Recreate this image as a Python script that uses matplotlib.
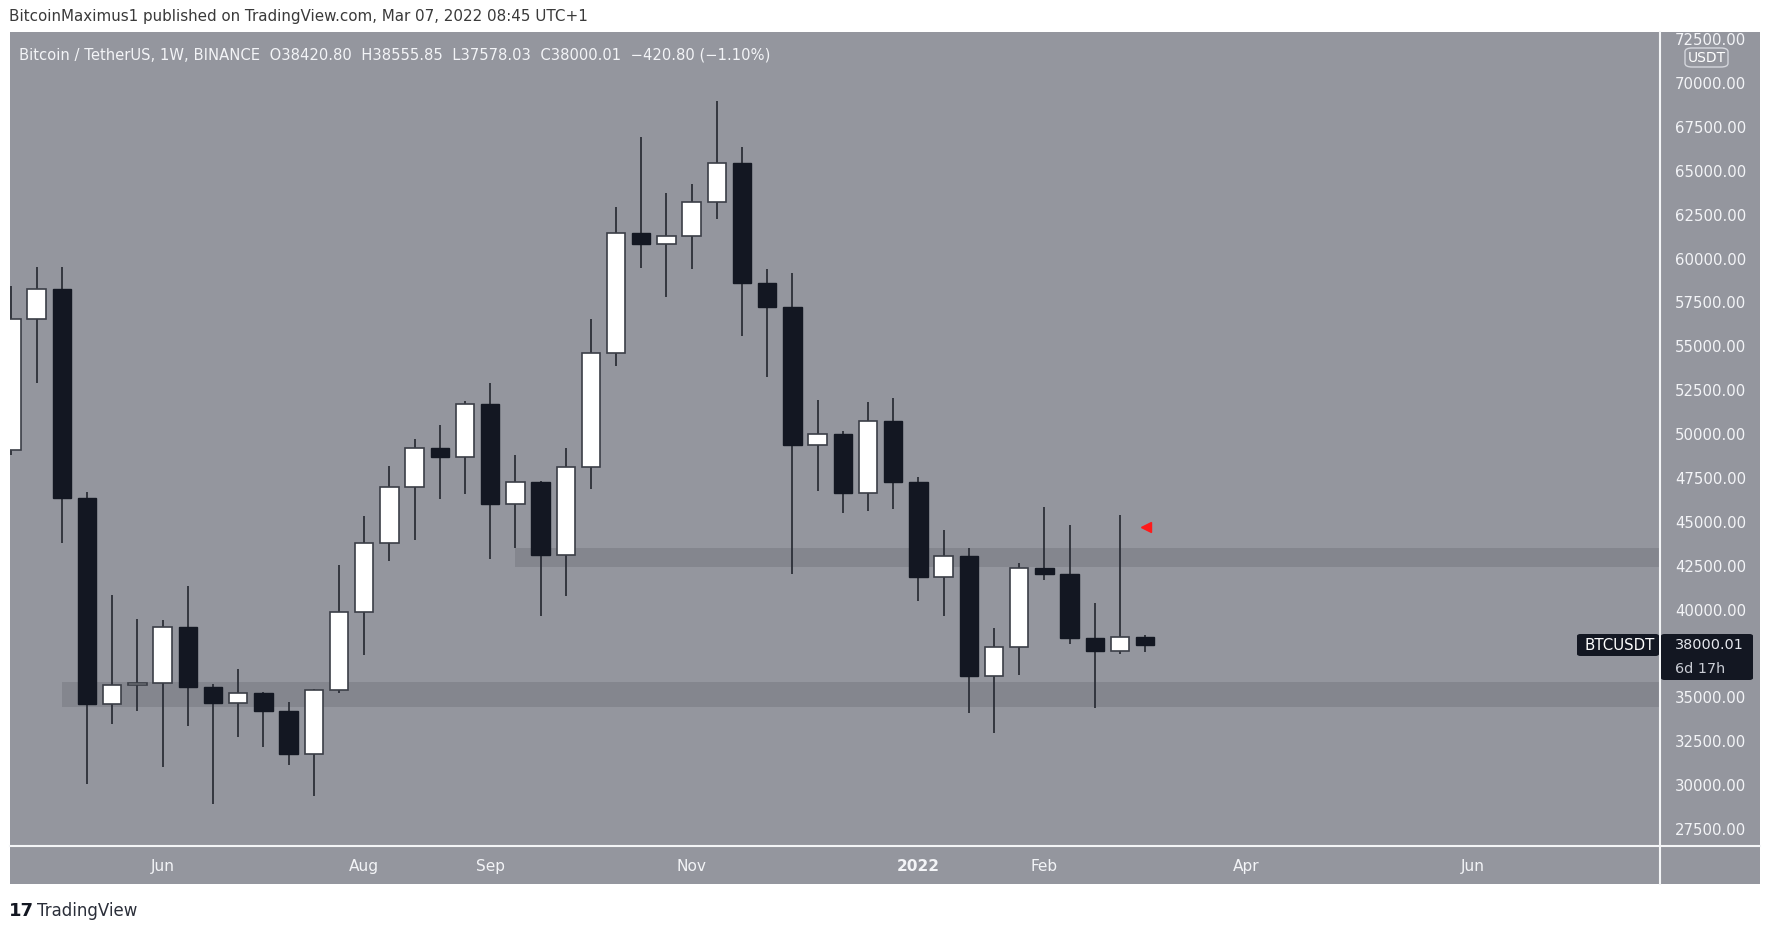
import matplotlib
matplotlib.use('Agg')
import matplotlib.pyplot as plt
from matplotlib import font_manager
from matplotlib.patches import Rectangle, FancyBboxPatch
from matplotlib.lines import Line2D
import numpy as np
import pandas as pd

# BTC/USDT weekly candles (Binance), first week 2021-04-26, last 2022-03-07
opens = [49085, 56578, 58241, 46360, 34631, 35678, 35808, 38991, 35590, 34697,
         35263, 34217, 31754, 35416, 39841, 43809, 46970, 49194, 48714, 51722,
         45989, 47253, 43111, 48147, 54644, 61480, 60800, 61280, 63218, 65436,
         58583, 57224, 49372, 50031, 46635, 50770, 47250, 41838, 43072, 36236,
         37888, 42389, 42028, 38363, 37660, 38420.80]
highs = [58415, 59505, 59505, 46708, 40822, 39449, 39384, 41346, 35743, 36615,
         35285, 34718, 35450, 42566, 45335, 48169, 49739, 50502, 51875, 52900,
         48779, 47300, 49194, 56540, 62918, 66934, 63718, 64237, 68972, 66375,
         59422, 59182, 51949, 50191, 51829, 52069, 47573, 44534, 43490, 38932,
         42635, 45826, 44800, 40376, 45370, 38555.85]
lows = [48779, 52921, 43809, 30075, 33454, 34217, 31056, 33367, 28920, 32735,
        32146, 31121, 29356, 35263, 37422, 42784, 43983, 46316, 46578, 42872,
        43482, 39623, 40801, 46861, 53887, 59482, 57783, 59422, 62279, 55585,
        53248, 42039, 46754, 45476, 45596, 45736, 40509, 39654, 34090, 32989,
        36274, 41686, 38040, 34375, 37470, 37578.03]
closes = [56578, 58241, 46360, 34631, 35678, 35808, 38991, 35590, 34697, 35263,
          34217, 31754, 35416, 39841, 43809, 46970, 49194, 48714, 51722, 45989,
          47253, 43111, 48147, 54644, 61480, 60800, 61280, 63218, 65436, 58583,
          57224, 49372, 50031, 46635, 50770, 47250, 41838, 43072, 36236, 37888,
          42389, 42028, 38363, 37660, 38420.80, 38000.01]
first_week = '2021-04-26'

# time axis labels
tick_dates = ['2021-06-07', '2021-08-02', '2021-09-06', '2021-11-01',
              '2022-01-03', '2022-02-07', '2022-04-04', '2022-06-06']
tick_labels = ['Jun', 'Aug', 'Sep', 'Nov', '2022', 'Feb', 'Apr', 'Jun']

# price axis
price_ticks = list(range(27500, 72501, 2500))

# horizontal zones (low, high, first week index)
support = (34470, 35894, 2)
resistance = (42408, 43490, 20)

last_price = '38000.01'
countdown = '6d 17h'
marker_price = 44700

header = 'BitcoinMaximus1 published on TradingView.com, Mar 07, 2022 08:45 UTC+1'
legend = ('Bitcoin / TetherUS, 1W, BINANCE  O38420.80  H38555.85  L37578.03  '
          'C38000.01  \u2212420.80 (\u22121.10%)')

installed = {f.name for f in font_manager.fontManager.ttflist}
narrow = 'Liberation Sans Narrow' if 'Liberation Sans Narrow' in installed else 'DejaVu Sans'
nscale = 1.0 if narrow != 'DejaVu Sans' else 0.8

W, H = 1771, 930
fig = plt.figure(figsize=(W / 100, H / 100), dpi=100, facecolor='white')


def fx(px):
    return px / W


def fy(py):
    return 1 - py / H


BG = '#94969e'
ZONE = '#84868e'
DARK = '#131722'
TXT = '#f3f4f7'

fig.patches.append(Rectangle((fx(9.6), fy(884.4)), fx(1760) - fx(9.6), fy(32) - fy(884.4),
                             transform=fig.transFigure, facecolor=BG, edgecolor='none', zorder=-5))

ax = fig.add_axes([fx(9.6), fy(846), fx(1660) - fx(9.6), fy(32) - fy(846)])
ax.set_facecolor(BG)

x = np.arange(len(opens))
o = np.array(opens)
c = np.array(closes)
up = c >= o
xmax = 65.44

# zones
for lo, hi, start in (support, resistance):
    ax.fill_between([start, xmax], lo, hi, color=ZONE, lw=0, zorder=1)

ax.vlines(x, lows, highs, color='#2c2f38', lw=1.3, zorder=2)
ax.bar(x[up], (c - o)[up], bottom=o[up], width=0.73, color='white',
       edgecolor='#3b3e47', linewidth=1.2, zorder=3)
ax.bar(x[~up], (o - c)[~up], bottom=c[~up], width=0.73, color=DARK,
       edgecolor=DARK, linewidth=1.0, zorder=3)

ax.plot(len(opens) - 1 + 0.05, marker_price, marker='<', color='#ff1a1a',
        ms=7, mec='#ff1a1a', zorder=5)

ax.set_xlim(-0.075, xmax)
ax.set_ylim(26532, 72905)

# ticks
t0 = pd.Timestamp(first_week)
tick_idx = [(pd.Timestamp(d) - t0).days / 7 for d in tick_dates]
ax.set_xticks(tick_idx)
ax.set_xticklabels(tick_labels, family=narrow, fontsize=13.8 * nscale)
ax.get_xticklabels()[4].set_fontweight('bold')
ax.tick_params(axis='x', length=0, pad=9.0, labelcolor=TXT)

ax.yaxis.tick_right()
ax.set_yticks(price_ticks)
# the label hidden behind the last-price box is left out
ax.set_yticklabels(['' if abs(p - closes[-1]) < 1500 else f'{p:.2f}' for p in price_ticks])
ax.tick_params(axis='y', length=0, pad=10.8, labelsize=10.7, labelcolor=TXT)
for sp in ax.spines.values():
    sp.set_visible(False)

# separator lines
fig.add_artist(Line2D([fx(9.6), fx(1760)], [fy(846), fy(846)], transform=fig.transFigure,
                      color='#f4f5f7', lw=1.5))
fig.add_artist(Line2D([fx(1660), fx(1660)], [fy(32), fy(884.4)], transform=fig.transFigure,
                      color='#f4f5f7', lw=1.5))

# last price labels
fig.patches.append(FancyBboxPatch((fx(1577), fy(656)), fx(1659) - fx(1577), fy(634) - fy(656),
                                  boxstyle='round,pad=0,rounding_size=0.002',
                                  transform=fig.transFigure, facecolor=DARK, edgecolor='none', zorder=4))
fig.text(fx(1585), fy(645), 'BTCUSDT', color='white', fontsize=10.8, va='center', ha='left', zorder=5)
fig.patches.append(FancyBboxPatch((fx(1661), fy(680)), fx(1753) - fx(1661), fy(634) - fy(680),
                                  boxstyle='round,pad=0,rounding_size=0.002',
                                  transform=fig.transFigure, facecolor=DARK, edgecolor='none', zorder=4))
fig.text(fx(1675), fy(645), last_price, color='#e6e8ee', fontsize=10.4, va='center', ha='left', zorder=5)
fig.text(fx(1675), fy(668.5), countdown, color='#c9ccd4', fontsize=10.4, va='center', ha='left', zorder=5)

# currency badge
fig.patches.append(FancyBboxPatch((fx(1685), fy(67)), fx(1728) - fx(1685), fy(48) - fy(67),
                                  boxstyle='round,pad=0,rounding_size=0.004',
                                  transform=fig.transFigure, facecolor=BG, edgecolor='#d4d6dc',
                                  lw=1.0, zorder=4))
fig.text(fx(1706.5), fy(57.5), 'USDT', color='white', fontsize=10, va='center', ha='center', zorder=5)

# header / legend / footer
fig.text(fx(9), fy(16), header, color='#3a3a3a', family=narrow, fontsize=13.6 * nscale,
         va='center', ha='left')
fig.text(fx(19), fy(55.3), legend, color=TXT, family=narrow, fontsize=13.3 * nscale,
         va='center', ha='left')
fig.text(fx(9), fy(911), '17', color=DARK, fontsize=13, fontweight='heavy', va='center', ha='left')
fig.text(fx(37), fy(911), 'TradingView', color='#2a2e39', fontsize=12, va='center', ha='left')

fig.savefig('out.png', dpi=100, facecolor='white')
